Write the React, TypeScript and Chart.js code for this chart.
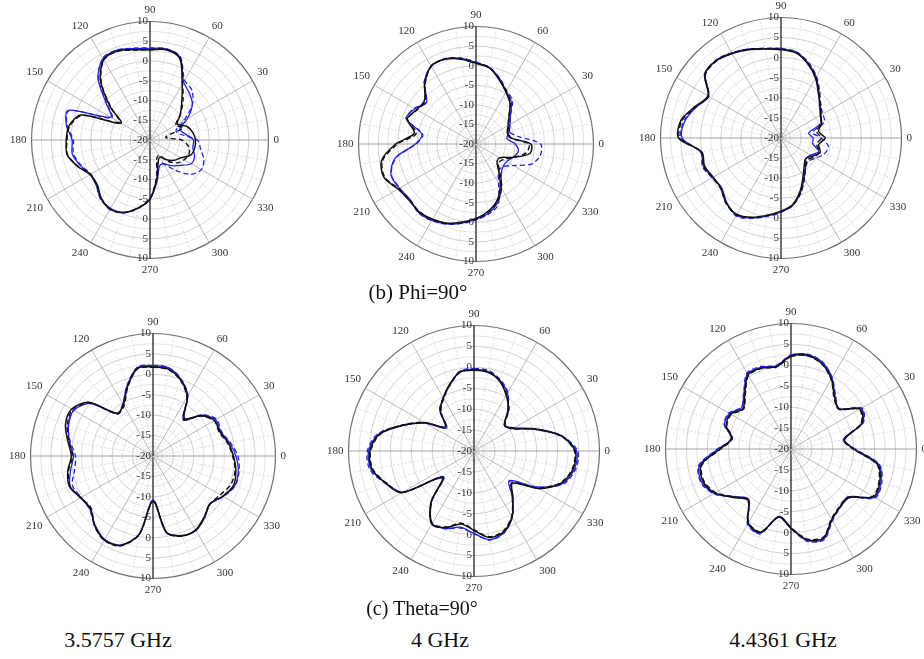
import React, { useEffect, useRef } from 'react';
import { Chart, registerables } from 'chart.js';

Chart.register(...registerables);

// ---------- categories / ticks ----------
const angles = [0, 10, 20, 30, 40, 50, 60, 70, 80, 90, 100, 110, 120, 130, 140, 150, 160, 170,
  180, 190, 200, 210, 220, 230, 240, 250, 260, 270, 280, 290, 300, 310, 320, 330, 340, 350];
const radialTicks = [-20, -15, -10, -5, 0, 5, 10];
const R_MIN = -20;
const R_MAX = 10;

// ---------- (b) Phi=90°, 3.5757 GHz ----------
const p1SimBlack = [-8.5, -9, -10, -12, -10, -7.5, -3.7, 2.0, 3.2, 2.8, 3.2, 4.0, 3.5, -0.5, -6.8, -11.5, -1.5, 0.8, 1.2, 1.3, -0.5, -2.5, -2.5, -0.8, 0.2, -0.5, -2.5, -5, -10, -14, -15, -13.5, -12, -11, -9, -8.5];
const p1MeasBlack = [-12, -16, -11, -12.5, -10, -7, -3.5, 2.2, 3.3, 2.9, 3.1, 3.9, 3.4, -0.8, -7, -11, -1.8, 0.6, 1.0, 1.2, -0.6, -2.6, -2.4, -0.7, 0.3, -0.4, -2.4, -5.2, -10.5, -15, -15.5, -13, -11, -10, -9.5, -10];
const p1SimBlue = [-9, -11, -12, -9, -6, -4.5, -3, 2.3, 3.4, 3.2, 3.5, 4.2, 3.8, 0.5, -5.5, -8.5, 2, 1.5, -0.3, 0, -1.2, -2.5, -2.2, -0.6, 0, -0.5, -2.5, -5, -9.5, -13, -13, -11.5, -10, -8, -8, -9];
const p1MeasBlue = [-8, -12, -13, -10, -6, -3.5, -2.5, 2.4, 3.5, 3.3, 3.6, 4.3, 3.9, 0.3, -5.8, -8.8, 1.8, 1.3, -0.6, -0.3, -1.4, -2.7, -2.3, -0.5, 0.1, -0.4, -2.6, -5.3, -10, -14, -13, -10, -6.5, -5, -5.5, -7];

// ---------- (b) Phi=90°, 4 GHz ----------
const p2SimBlack = [-6, -11, -11.5, -10.5, -9, -6.5, -4.7, -2.6, -0.3, 0.6, 2.0, 3.0, 3.0, 0.3, -2.8, -2.5, -1.3, -4, 0.5, 4.5, 5, 3, 2.3, 2.6, 2.2, 1.5, 0.2, -1, -2.5, -4.5, -7.6, -11, -13, -13, -10, -6];
const p2MeasBlack = [-6.5, -11, -11, -10.5, -9, -6.3, -4.5, -2.5, -0.2, 0.7, 2.1, 3.1, 2.9, 0.2, -3, -2.6, -1.4, -4.5, 0, 4.2, 4.8, 2.8, 2.2, 2.5, 2.3, 1.6, 0.4, -0.8, -2.3, -4.2, -7, -10.5, -12.5, -12, -10, -7];
const p2SimBlue = [-10, -12, -11, -10, -8.5, -6, -4.5, -2.3, -0.2, 0.8, 2.2, 3.1, 2.8, 0.5, -3.5, -2, -1, -6, -4.5, 1, 3.1, 2.6, 2, 2.8, 2.5, 1.7, 0.5, -0.8, -2, -4, -7, -10, -11, -11, -10, -9];
const p2MeasBlue = [-3.5, -9, -11, -10, -8.5, -5.5, -4.3, -2.2, -0.1, 0.9, 2.3, 3.2, 2.9, 0.6, -3.3, -1.8, -1.1, -6.2, -4.7, 0.8, 3, 2.5, 2.1, 2.9, 2.6, 1.8, 0.6, -0.6, -1.8, -3.5, -8.5, -11, -11, -9, -5, -3.3];

// ---------- (b) Phi=90°, 4.4361 GHz ----------
const p3SimBlack = [-9, -10.5, -9.2, -8.7, -7.3, -5.5, -2.8, -0.4, 1.5, 2.0, 2.5, 3.4, 4.3, 5.1, 4.8, 1.0, 2.8, 5.3, 5.5, 0, 0.3, -0.5, -0.5, 1.2, 2, 1.0, -0.5, -1.8, -3.2, -6, -9, -11, -12, -11, -9.6, -10.5];
const p3MeasBlack = [-10, -11, -9.5, -8.5, -7.1, -5.3, -2.6, -0.3, 1.6, 2.1, 2.6, 3.5, 4.4, 5.0, 4.6, 0.8, 2.6, 5.0, 5.2, 0.2, 0.5, -0.3, -0.4, 1.3, 2.1, 1.1, -0.4, -1.7, -3, -5.6, -8.5, -10.5, -11.5, -10.5, -9.8, -11];
const p3SimBlue = [-12, -13, -9.5, -8.5, -7.5, -5.3, -2.5, -0.2, 1.7, 2.2, 2.6, 3.6, 4.4, 5.2, 4.6, 0.8, 2.5, 4.3, 4.6, 0.3, 0.6, -0.3, -0.7, 1.0, 2.2, 1.2, -0.3, -1.6, -3, -5.7, -8.5, -10.5, -12, -11.5, -10, -12];
const p3MeasBlue = [-10, -12, -8.5, -8, -7.2, -5, -2.3, 0, 1.8, 2.3, 2.7, 3.5, 4.5, 5.3, 4.7, 0.9, 2.6, 4.5, 4.8, 0.2, 0.8, -0.2, -0.6, 1.1, 2.4, 1.3, -0.2, -1.5, -3.1, -5.5, -8.3, -10.5, -11, -10, -8.5, -8];

// ---------- (c) Theta=90°, 3.5757 GHz ----------
const p4SimBlack = [-0.3, -1.3, -2.6, -2.6, -4.7, -8, -3.2, -0.2, 1.6, 1.8, 1.8, -1.8, -5.5, -6.3, 0.5, 3, 2.8, 1.2, 0, 1.2, 1.8, 0.5, 0, 2.2, 3.8, 3.3, -0.5, -9, -1, 0.8, 0.9, -0.5, -1.8, -0.3, 1.0, 0.6];
const p4MeasBlack = [-0.5, -1.5, -2.8, -2.7, -4.8, -8.3, -3.4, -0.3, 1.5, 1.7, 1.7, -2, -5.8, -6.5, 0.2, 2.8, 2.3, 1.0, -0.3, 1.0, 1.6, 0.4, -0.2, 2.3, 3.9, 3.4, -0.4, -8.8, -0.9, 0.9, 1.0, -0.4, -1.7, -1.0, 0.3, 0.4];
const p4SimBlue = [0.3, -1.0, -2.4, -2.3, -4.4, -8.5, -3.0, 0, 1.9, 2.1, 2.0, -1.6, -5.3, -6.6, 0, 2.4, 2, 0.8, -0.5, 0.5, 1.6, 0.4, 0.2, 2.1, 3.6, 3.2, -0.6, -9.3, -1.1, 0.7, 1.0, -0.4, -1.8, -0.2, 1.3, 1.2];
const p4MeasBlue = [0.8, -0.8, -2.2, -2.0, -4.3, -8.2, -2.9, 0.1, 2.0, 2.2, 2.1, -1.5, -5.2, -6.4, 0.1, 2.5, 2.1, 0.6, -1.0, -0.5, 1.0, 0.3, 0.3, 2.2, 3.7, 3.4, -0.5, -9.2, -1.0, 0.8, 1.1, -0.3, -1.7, -0.1, 1.4, 1.4];

// ---------- (c) Theta=90°, 4 GHz ----------
const p5SimBlack = [4.2, 1.2, -4.5, -9, -10.5, -7.2, -4.6, -2.2, -0.9, -0.7, -0.8, -3, -5.3, -7.5, -11, -6.5, -2, 3, 4.9, 4.8, 2.5, 0, -10, -4, 0.2, -0.5, -2.3, -1, 1, 0.6, -1.8, -5.5, -8, -2, 2.3, 4.1];
const p5MeasBlack = [4.0, 1.0, -4.7, -9.2, -10.3, -7.0, -4.4, -2.0, -0.8, -0.6, -0.9, -3.2, -5.5, -7.7, -11.2, -6.3, -1.8, 2.8, 4.7, 4.6, 2.3, -0.2, -10.2, -4.2, 0, -0.7, -2.5, -1.2, 0.8, 0.4, -2, -5.7, -8.2, -2.3, 2.1, 3.9];
const p5SimBlue = [4.5, 1.0, -4.8, -9.3, -10.5, -7.5, -4.0, -2.0, -0.7, -0.5, -0.7, -3.2, -5.4, -7.3, -11.5, -6.8, -2, 3.2, 5.2, 5.0, 2.4, -0.3, -10.5, -4.2, 0, -0.3, -1.5, -0.3, 1.5, 0.8, -1.8, -5.8, -9, -2.8, 2.6, 4.4];
const p5MeasBlue = [4.8, 1.2, -4.6, -9.5, -10.3, -7.4, -3.8, -1.8, -0.4, -0.3, -0.6, -3.1, -5.3, -7.2, -11.3, -6.6, -1.8, 3.4, 5.5, 5.3, 2.6, -0.2, -10.3, -4.1, 0.1, -0.2, -1.3, -0.2, 1.6, 0.9, -1.7, -5.7, -8.8, -2.6, 2.8, 4.7];

// ---------- (c) Theta=90°, 4.4361 GHz ----------
const p6SimBlack = [-5, -7, -2, -0.9, -5, -3.8, -0.7, 1.7, 2.7, 2.2, 0, 0.6, 0.5, -2.8, -5, -3.3, -3.5, -5.5, -3, 1.8, 2.4, 1.0, -2, -4, 0.4, 1.2, -3.5, -1, 2, 2.7, -0.5, -1.8, -1.9, 2.8, 2.6, 1.0];
const p6MeasBlack = [-5.2, -7.2, -2.2, -1.1, -5.1, -4.0, -0.8, 1.6, 2.6, 2.1, -0.1, 0.5, 0.3, -3.0, -5.2, -3.5, -3.7, -5.7, -3.2, 1.6, 2.2, 0.8, -2.2, -4.2, 0.3, 1.1, -3.6, -1.2, 1.8, 2.5, -0.7, -2.0, -2.1, 2.6, 2.4, 0.8];
const p6SimBlue = [-4.8, -7.3, -1.8, -0.6, -5.2, -3.6, -0.4, 2.0, 2.9, 2.4, 0.2, 0.8, 0.8, -2.5, -4.6, -3.0, -3.1, -5.8, -2.6, 2.2, 2.8, 1.2, -2.3, -4.3, 0.6, 1.4, -3.7, -1.2, 2.2, 2.9, -0.4, -1.9, -2.2, 3.1, 2.9, 1.3];
const p6MeasBlue = [-4.6, -7.1, -1.6, -0.4, -5.0, -3.4, -0.3, 2.1, 3.0, 2.5, 0.3, 1.0, 1.0, -2.4, -4.5, -2.8, -3.0, -5.6, -2.4, 2.4, 3.0, 1.4, -2.1, -4.1, 0.8, 1.6, -3.5, -1.0, 2.4, 3.1, -0.2, -1.7, -2.0, 3.3, 3.1, 1.5];

// ---------- captions ----------
const rowCaptions = ['(b) Phi=90°', '(c) Theta=90°'];
const freqLabels = ['3.5757 GHz', '4 GHz', '4.4361 GHz'];

const BLACK = '#111111';
const BLUE = '#2424e0';
const SERIF = '"Liberation Serif", "Times New Roman", serif';

// order in which the radar scale walks the angles: from 90° at the top, clockwise
const displayAngles = angles.map((_, i) => ((90 - angles[i]) % 360 + 360) % 360);

type Series = { values: number[]; color: string; dash: number[]; width: number };

const tickLabelPlugin = {
  id: 'verticalTickLabels',
  beforeDatasetsDraw(chart: any) {
    const s = chart.scales.r;
    const ctx = chart.ctx;
    ctx.save();
    ctx.font = `11px ${SERIF}`;
    ctx.fillStyle = '#333';
    ctx.textAlign = 'right';
    ctx.textBaseline = 'middle';
    for (const v of radialTicks) {
      const d = s.getDistanceFromCenterForValue(v);
      ctx.fillText(String(v), s.xCenter - 2, s.yCenter - d);
      if (d > 0) ctx.fillText(String(v), s.xCenter - 2, s.yCenter + d);
    }
    ctx.restore();
  },
};

function PolarPlot({ cx, cy, R, series }: { cx: number; cy: number; R: number; series: Series[] }) {
  const ref = useRef<HTMLCanvasElement | null>(null);
  const S = 2 * (R + 22);
  useEffect(() => {
    if (!ref.current) return;
    const chart = new Chart(ref.current, {
      type: 'radar',
      data: {
        labels: displayAngles.map(String),
        datasets: series.map((s) => ({
          data: displayAngles.map((a) => s.values[angles.indexOf(a)]),
          borderColor: s.color,
          borderDash: s.dash,
          borderWidth: s.width,
          pointRadius: 0,
          fill: false,
          tension: 0.3,
        })),
      },
      options: {
        animation: false,
        responsive: true,
        maintainAspectRatio: false,
        events: [],
        layout: { padding: 0 },
        plugins: { legend: { display: false }, tooltip: { enabled: false } },
        scales: {
          r: {
            min: R_MIN,
            max: R_MAX,
            startAngle: 0,
            ticks: { stepSize: 2.5, display: false },
            grid: {
              circular: true,
              color: (c: any) =>
                c.tick && c.tick.value === R_MAX ? '#6e6e6e' : c.tick && c.tick.value % 5 === 0 ? '#c6c6c6' : '#dcdcdc',
              lineWidth: (c: any) => (c.tick && c.tick.value === R_MAX ? 1.2 : 0.8),
            },
            angleLines: {
              color: (c: any) => {
                const a = displayAngles[c.index];
                if (a === 90 || a === 270) return '#222';
                if (a === 0 || a === 180) return '#8a8a8a';
                return a % 30 === 0 ? '#a8a8a8' : '#d4d4d4';
              },
              lineWidth: (c: any) => {
                const a = displayAngles[c.index];
                return a === 90 || a === 270 ? 1.3 : 0.8;
              },
              borderDash: (c: any) => {
                const a = displayAngles[c.index];
                return a % 30 === 0 ? [] : [2, 2];
              },
            },
            pointLabels: {
              display: true,
              padding: 5,
              color: '#333',
              font: { family: SERIF, size: 11 },
              callback: (label: string) => (Number(label) % 30 === 0 ? label : ''),
            },
          },
        },
      },
      plugins: [tickLabelPlugin],
    } as any);
    return () => chart.destroy();
  }, []);
  return (
    <div style={{ position: 'absolute', left: cx - S / 2 - 5, top: cy - S / 2, width: S, height: S }}>
      <canvas ref={ref} />
    </div>
  );
}

function mk(sb: number[], mb: number[], su: number[], mu: number[]): Series[] {
  return [
    { values: sb, color: BLACK, dash: [], width: 1.5 },
    { values: mb, color: BLACK, dash: [5, 3], width: 1.4 },
    { values: su, color: BLUE, dash: [], width: 1.3 },
    { values: mu, color: BLUE, dash: [5, 3], width: 1.3 },
  ];
}

function Caption({ text, x, y, size }: { text: string; x: number; y: number; size: number }) {
  return (
    <div
      style={{
        position: 'absolute',
        left: x - 150,
        top: y - size * 0.6,
        width: 300,
        textAlign: 'center',
        fontFamily: SERIF,
        fontSize: size,
        lineHeight: `${size * 1.2}px`,
        color: '#111',
        whiteSpace: 'nowrap',
      }}
    >
      {text}
    </div>
  );
}

export default function App() {
  return (
    <div style={{ position: 'absolute', left: 0, top: 0, width: 924, height: 659, background: '#fff', overflow: 'hidden' }}>
      <PolarPlot cx={150} cy={140} R={118} series={mk(p1SimBlack, p1MeasBlack, p1SimBlue, p1MeasBlue)} />
      <PolarPlot cx={476} cy={144} R={117} series={mk(p2SimBlack, p2MeasBlack, p2SimBlue, p2MeasBlue)} />
      <PolarPlot cx={781} cy={138} R={120} series={mk(p3SimBlack, p3MeasBlack, p3SimBlue, p3MeasBlue)} />
      <PolarPlot cx={153} cy={456} R={122} series={mk(p4SimBlack, p4MeasBlack, p4SimBlue, p4MeasBlue)} />
      <PolarPlot cx={474} cy={451} R={125} series={mk(p5SimBlack, p5MeasBlack, p5SimBlue, p5MeasBlue)} />
      <PolarPlot cx={791} cy={449} R={125} series={mk(p6SimBlack, p6MeasBlack, p6SimBlue, p6MeasBlue)} />
      <Caption text={rowCaptions[0]} x={418} y={293} size={21} />
      <Caption text={rowCaptions[1]} x={422} y={608} size={20} />
      <Caption text={freqLabels[0]} x={118} y={640} size={22} />
      <Caption text={freqLabels[1]} x={440} y={640} size={22} />
      <Caption text={freqLabels[2]} x={783} y={640} size={22} />
    </div>
  );
}
